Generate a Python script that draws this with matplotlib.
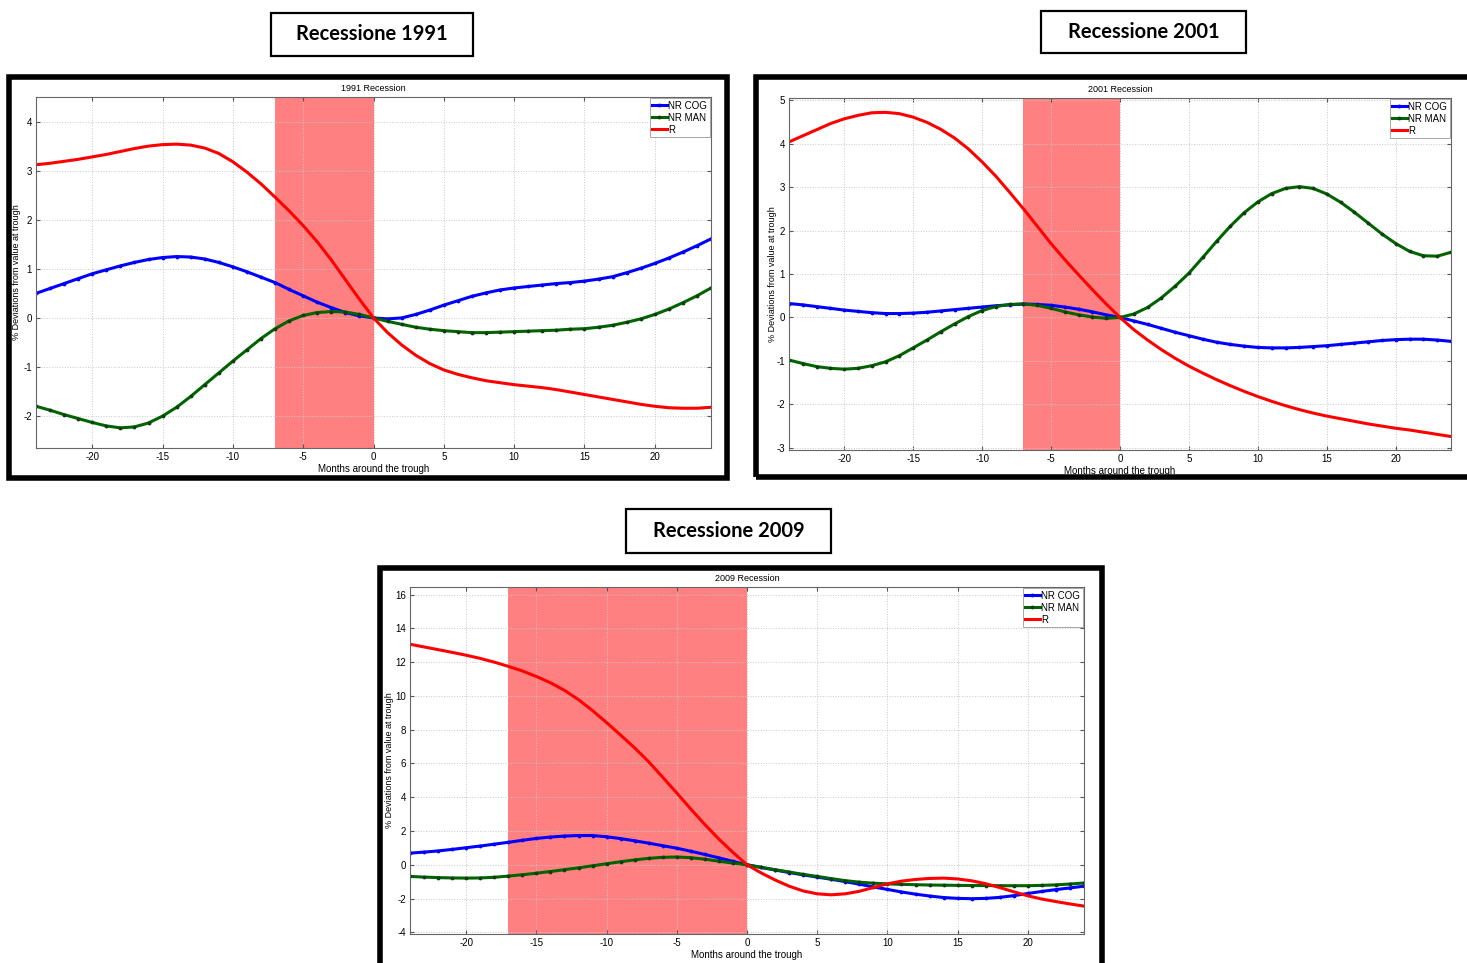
# coding: utf-8
import matplotlib
matplotlib.use("Agg")
from matplotlib import pyplot as plt
from matplotlib.patches import Rectangle
import numpy as np

plt.rcParams['font.family'] = ['Liberation Sans', 'DejaVu Sans']
plt.rcParams['axes.unicode_minus'] = False

W, H = 1467, 963

months = list(range(-24, 25))

# 1991
cog_1991 = [0.50, 0.60, 0.70, 0.80, 0.90, 0.98, 1.06, 1.13, 1.19, 1.23, 1.25, 1.24, 1.20, 1.13, 1.04, 0.94,
            0.83, 0.72, 0.58, 0.45, 0.32, 0.21, 0.11, 0.04, 0.00, -0.02, 0.00, 0.07, 0.16, 0.26, 0.35, 0.44,
            0.51, 0.57, 0.61, 0.64, 0.67, 0.70, 0.72, 0.75, 0.79, 0.84, 0.92, 1.01, 1.11, 1.22, 1.34, 1.47, 1.61]
man_1991 = [-1.80, -1.88, -1.97, -2.05, -2.13, -2.20, -2.24, -2.22, -2.14, -2.00, -1.82, -1.60, -1.36, -1.12,
            -0.88, -0.65, -0.42, -0.22, -0.06, 0.05, 0.11, 0.13, 0.12, 0.07, 0.00, -0.07, -0.13, -0.19, -0.23,
            -0.26, -0.28, -0.30, -0.30, -0.29, -0.28, -0.27, -0.26, -0.25, -0.23, -0.22, -0.19, -0.15, -0.09,
            -0.02, 0.07, 0.18, 0.31, 0.45, 0.61]
r_1991 = [3.12, 3.15, 3.19, 3.23, 3.28, 3.33, 3.39, 3.45, 3.50, 3.53, 3.54, 3.52, 3.46, 3.35, 3.18, 2.97,
          2.73, 2.46, 2.18, 1.88, 1.55, 1.18, 0.78, 0.38, 0.00, -0.30, -0.55, -0.76, -0.93, -1.06, -1.15,
          -1.22, -1.28, -1.32, -1.36, -1.39, -1.42, -1.46, -1.51, -1.56, -1.61, -1.66, -1.71, -1.76, -1.80,
          -1.83, -1.84, -1.84, -1.82]

# 2001
cog_2001 = [0.32, 0.29, 0.25, 0.21, 0.17, 0.14, 0.11, 0.09, 0.09, 0.10, 0.12, 0.15, 0.18, 0.21, 0.24, 0.27,
            0.29, 0.31, 0.30, 0.28, 0.24, 0.19, 0.13, 0.06, 0.00, -0.08, -0.16, -0.25, -0.34, -0.42, -0.50,
            -0.57, -0.62, -0.66, -0.69, -0.70, -0.70, -0.69, -0.67, -0.65, -0.62, -0.59, -0.56, -0.53, -0.51,
            -0.50, -0.50, -0.52, -0.55]
man_2001 = [-0.98, -1.06, -1.13, -1.17, -1.19, -1.17, -1.11, -1.02, -0.88, -0.70, -0.52, -0.33, -0.15, 0.02,
            0.16, 0.25, 0.30, 0.31, 0.28, 0.21, 0.13, 0.06, 0.01, -0.02, 0.00, 0.08, 0.23, 0.45, 0.72, 1.02,
            1.38, 1.75, 2.10, 2.41, 2.66, 2.85, 2.97, 3.01, 2.97, 2.84, 2.65, 2.42, 2.17, 1.92, 1.70, 1.52,
            1.42, 1.41, 1.50]
r_2001 = [4.04, 4.18, 4.32, 4.46, 4.57, 4.65, 4.71, 4.72, 4.69, 4.61, 4.49, 4.33, 4.13, 3.88, 3.58, 3.25,
          2.88, 2.50, 2.10, 1.70, 1.33, 0.98, 0.64, 0.31, 0.00, -0.28, -0.52, -0.74, -0.94, -1.12, -1.28,
          -1.43, -1.57, -1.70, -1.82, -1.93, -2.03, -2.12, -2.20, -2.27, -2.33, -2.39, -2.45, -2.50, -2.55,
          -2.59, -2.64, -2.69, -2.74]

# 2009
cog_2009 = [0.69, 0.75, 0.82, 0.91, 1.01, 1.11, 1.22, 1.33, 1.45, 1.56, 1.64, 1.70, 1.73, 1.73, 1.66, 1.55,
            1.42, 1.28, 1.13, 0.98, 0.80, 0.61, 0.41, 0.20, 0.00, -0.16, -0.31, -0.46, -0.60, -0.73, -0.86,
            -1.00, -1.15, -1.31, -1.46, -1.61, -1.74, -1.85, -1.94, -1.99, -2.01, -1.99, -1.93, -1.83, -1.70,
            -1.58, -1.47, -1.37, -1.27]
man_2009 = [-0.69, -0.73, -0.76, -0.78, -0.79, -0.78, -0.74, -0.67, -0.59, -0.50, -0.40, -0.29, -0.18, -0.06,
            0.06, 0.18, 0.29, 0.38, 0.44, 0.46, 0.42, 0.33, 0.21, 0.10, 0.00, -0.15, -0.29, -0.43, -0.57,
            -0.69, -0.82, -0.94, -1.03, -1.09, -1.13, -1.16, -1.18, -1.20, -1.21, -1.22, -1.23, -1.23, -1.24,
            -1.24, -1.24, -1.22, -1.19, -1.14, -1.08]
r_2009 = [13.06, 12.90, 12.74, 12.58, 12.41, 12.22, 12.00, 11.75, 11.48, 11.15, 10.78, 10.33, 9.78, 9.13,
          8.42, 7.68, 6.92, 6.10, 5.18, 4.25, 3.30, 2.38, 1.52, 0.73, 0.00, -0.48, -0.90, -1.27, -1.55, -1.72,
          -1.78, -1.72, -1.57, -1.35, -1.13, -0.97, -0.87, -0.81, -0.79, -0.84, -0.95, -1.12, -1.35, -1.60,
          -1.84, -2.03, -2.18, -2.32, -2.45]

recession_start = [-7, -7, -17]
years = ["1991", "2001", "2009"]
yticks_list = [np.arange(-2, 5, 1), np.arange(-3, 6, 1), np.arange(-4, 17, 2)]
ylims = [(-2.65, 4.5), (-3.05, 5.05), (-4.1, 16.45)]

# pixel boxes: axes (left, top, right, bottom), frame, title box
ax_px = [(36, 97, 711, 448), (789, 98, 1451, 450), (410, 587, 1084, 934)]
frame_px = [(9, 77, 727, 478), (756, 77, 1480, 477), (380, 568, 1102, 980)]
tbox_px = [(271, 13, 473, 56), (1041, 11, 1246, 53), (626, 509, 831, 553)]
ylabel_x = [17, 772, 389]


def fig_rect(l, t, r, b):
    return l / W, 1 - b / H, (r - l) / W, (b - t) / H


def draw_panel(fig, i, cog, man, r):
    ax = fig.add_axes(fig_rect(*ax_px[i]))
    ax.axvspan(recession_start[i], 0, color="#ff8080", lw=0)
    ax.plot(months, cog, color="#0000ff", lw=2.2, marker=".", ms=3.5, label="NR COG")
    ax.plot(months, man, color="#006400", lw=2.2, marker=".", ms=3.5, mfc="#0f3d0f", mec="#0f3d0f",
            label="NR MAN")
    ax.plot(months, r, color="#ff0000", lw=2.2, label="R")
    ax.set_xlim(-24, 24)
    ax.set_ylim(*ylims[i])
    ax.set_xticks(np.arange(-20, 21, 5))
    ax.set_yticks(yticks_list[i])
    ax.grid(True, color="#c8c8c8", ls=":", lw=0.7)
    ax.tick_params(direction="in", labelsize=7, length=3, top=True, right=True, color="#555555", pad=3)
    for s in ax.spines.values():
        s.set_color("#666666")
        s.set_linewidth(0.8)
    ax.set_title(years[i] + " Recession", fontsize=6.5, pad=4)
    ax.set_xlabel("Months around the trough", fontsize=7, labelpad=1)
    ax.set_ylabel("% Deviations from value at trough", fontsize=6.5, va="center")
    l, t, rr, b = ax_px[i]
    ax.yaxis.set_label_coords((ylabel_x[i] - l) / (rr - l), 0.5)
    leg = ax.legend(loc="upper right", fontsize=7, handlelength=1.5, handletextpad=0.15,
                    borderpad=0.25, labelspacing=0.2, fancybox=False, borderaxespad=0.15, framealpha=1)
    leg.get_frame().set_edgecolor("#999999")
    leg.get_frame().set_linewidth(0.6)

    # black outer frame
    l, t, rr, b = frame_px[i]
    fig.add_artist(Rectangle((l / W, 1 - b / H), (rr - l) / W, (b - t) / H, transform=fig.transFigure,
                             fill=False, ec="black", lw=4))
    # title box
    l, t, rr, b = tbox_px[i]
    fig.add_artist(Rectangle((l / W, 1 - b / H), (rr - l) / W, (b - t) / H, transform=fig.transFigure,
                             fill=False, ec="black", lw=1.6))
    fig.text((l + rr) / 2 / W, 1 - (t + b) / 2 / H, "Recessione " + years[i], ha="center", va="center",
             fontsize=14.5, fontweight="bold", family=["Lato", "DejaVu Sans"])


def main():
    fig = plt.figure(figsize=(W / 100, H / 100), dpi=100)
    draw_panel(fig, 0, cog_1991, man_1991, r_1991)
    draw_panel(fig, 1, cog_2001, man_2001, r_2001)
    draw_panel(fig, 2, cog_2009, man_2009, r_2009)
    fig.savefig("out.png", dpi=100)


if __name__ == "__main__":
    main()
